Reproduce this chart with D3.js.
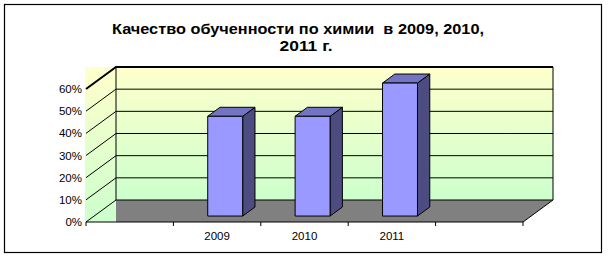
<!DOCTYPE html>
<meta charset="utf-8">
<script src="https://d3js.org/d3.v7.min.js"></script>
<style>
  body { margin: 0; background: #fff; }
  text { font-family: "Liberation Sans", Arial, sans-serif; }
</style>
<body>
<svg width="609" height="259"></svg>
<script>
    // data
    var years      = ["2009", "2010", "2011"];
    var quality    = [0.45, 0.45, 0.60];
    var slotLabels = ["", "2009", "2010", "2011", ""];
    var yTicks     = [0, 0.1, 0.2, 0.3, 0.4, 0.5, 0.6];
    var titleLines = ["Качество обученности по химии  в 2009, 2010,", "2011 г."];

    var svg = d3.select('svg');

    // 3d-ish layout: front plane + depth offset
    var depth = [30, 22];
    var x = d3.scaleLinear().domain([0, slotLabels.length]).range([86, 523]);
    var y = d3.scaleLinear().domain([0, 0.6]).range([222, 89]);
    var P = function(xv, yv, z){ return [xv + z * depth[0], yv - z * depth[1]]; };
    var line = d3.line();

    var defs = svg.append('defs');
    var grad = defs.append('linearGradient').attr('id', 'wall').attr('x1', 0).attr('y1', 0).attr('x2', 0).attr('y2', 1);
    grad.append('stop').attr('offset', '0%').attr('stop-color', '#ffffcc');
    grad.append('stop').attr('offset', '100%').attr('stop-color', '#ccffcc');

    // outer frame
    svg.append('rect').attr('x', 4.5).attr('y', 4.5).attr('width', 597).attr('height', 248)
        .attr('fill', '#fff').attr('stroke', '#000').attr('stroke-width', 1.2);

    // title
    var tl = [[298, 34, 372], [306, 51, 53]];
    svg.selectAll('text.title').data(titleLines).enter().append('text')
        .attr('class', 'title')
        .attr('x', function(d, i){ return tl[i][0]; })
        .attr('y', function(d, i){ return tl[i][1]; })
        .attr('text-anchor', 'middle')
        .attr('font-size', 14).attr('font-weight', 'bold')
        .attr('textLength', function(d, i){ return tl[i][2]; })
        .attr('lengthAdjust', 'spacingAndGlyphs')
        .style('white-space', 'pre')
        .text(function(d){ return d; });

    var x0 = x(0), x1 = x(slotLabels.length);
    var yTop = y(0.6), yBot = y(0);
    var back0 = P(x0, yBot, 1), backTop = P(x0, yTop, 1), backR = P(x1, yBot, 1);

    // side wall (left) and back wall
    svg.append('rect').attr('x', x0 - 1).attr('y', backTop[1])
        .attr('width', back0[0] - x0 + 1).attr('height', yBot - backTop[1]).attr('fill', 'url(#wall)');
    svg.append('rect').attr('x', back0[0]).attr('y', backTop[1])
        .attr('width', backR[0] - back0[0]).attr('height', back0[1] - backTop[1]).attr('fill', 'url(#wall)');

    // floor
    svg.append('path')
        .attr('d', line([[back0[0], back0[1]], backR, P(x1, yBot, 0), [back0[0], yBot]]) + 'Z')
        .attr('fill', '#808080');

    // gridlines
    var g = svg.append('g').attr('stroke', '#000').attr('fill', 'none');
    yTicks.forEach(function(t){
        g.append('path').attr('d', line([P(x0, y(t), 0), P(x0, y(t), 1), P(x1, y(t), 1)]))
            .attr('stroke-width', t === 0.6 ? 2 : 1);
    });
    g.append('path').attr('d', line([P(x0, yTop, 1), P(x0, yBot, 1)]));
    g.append('path').attr('d', line([P(x1, yTop, 1), P(x1, yBot, 1), P(x1, yBot, 0), P(x0, yBot, 0)]));

    // category ticks
    d3.range(slotLabels.length + 1).forEach(function(i){
        g.append('path').attr('d', line([[x(i), yBot], [x(i), yBot + 4]]));
    });

    // y labels
    svg.selectAll('text.yl').data(yTicks).enter().append('text')
        .attr('class', 'yl')
        .attr('x', 82).attr('y', function(d){ return y(d) + 4; })
        .attr('text-anchor', 'end').attr('font-size', 11.5)
        .text(d3.format('.0%'));

    // x labels
    svg.selectAll('text.xl').data(slotLabels).enter().append('text')
        .attr('class', 'xl')
        .attr('x', function(d, i){ return x(i + 0.5); }).attr('y', 240)
        .attr('text-anchor', 'middle').attr('font-size', 11.5)
        .text(function(d){ return d; });

    // bars
    var z0 = 0.27, z1 = 0.68, bw = 0.4;
    var bars = svg.selectAll('g.bar').data(years).enter().append('g').attr('class', 'bar')
        .attr('stroke', '#000').attr('stroke-width', 1).attr('stroke-linejoin', 'round');
    bars.each(function(d, i){
        var k = slotLabels.indexOf(d);
        var xl = x(k + 0.5 - bw / 2), xr = x(k + 0.5 + bw / 2);
        var yt = y(quality[i]), yb = y(0);
        var sel = d3.select(this);
        sel.append('path').attr('fill', '#4c4c80')
            .attr('d', line([P(xr, yt, z0), P(xr, yt, z1), P(xr, yb, z1), P(xr, yb, z0)]) + 'Z');
        sel.append('path').attr('fill', '#7474c4')
            .attr('d', line([P(xl, yt, z0), P(xr, yt, z0), P(xr, yt, z1), P(xl, yt, z1)]) + 'Z');
        sel.append('path').attr('fill', '#9999ff')
            .attr('d', line([P(xl, yt, z0), P(xr, yt, z0), P(xr, yb, z0), P(xl, yb, z0)]) + 'Z');
    });
</script>
</body>
